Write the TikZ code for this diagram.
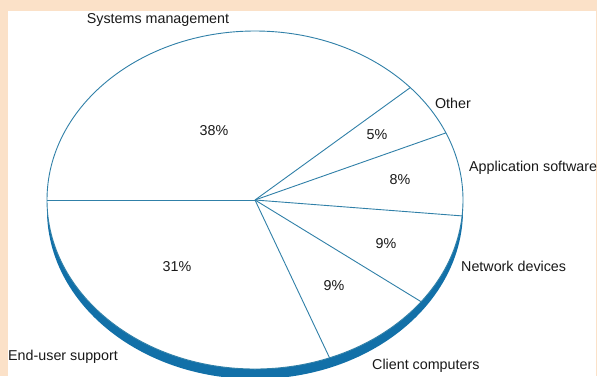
\documentclass[tikz,border=0pt]{standalone}
\usepackage{fontspec}
\setmainfont{Liberation Sans}
\definecolor{peach}{RGB}{251,225,200}
\definecolor{pieline}{RGB}{48,128,168}
\definecolor{pieband}{RGB}{18,112,168}
\definecolor{txt}{RGB}{25,25,25}
\tikzset{
  lbl/.style={font=\fontsize{14.3}{16}\selectfont, text=txt, inner sep=0pt},
  sliceline/.style={draw=pieline, line width=0.9pt},
}
\begin{document}
\begin{tikzpicture}[x=1pt,y=-1pt]
\useasboundingbox (0,0) rectangle (597,376);
\fill[peach] (0,0) rectangle (597,376);
\fill[white] (8,11) rectangle (596,376);
\begin{scope}
\clip (0,0) rectangle (597,376);
\fill[pieband] (255,210) ellipse [x radius=208, y radius=169];
\filldraw[fill=white, draw=pieline, line width=0.9pt] (255,200) ellipse [x radius=208, y radius=169];
\end{scope}
\coordinate (c) at (255,200);
\foreach \a/\n in {180/p1, 41.7/p2, 23.4/p3, -5.4/p4, -37/p5, -69/p6} {
  \coordinate (\n) at ({255+208*cos(\a)},{200-169*sin(\a)});
}
\foreach \n in {p1,p2,p3,p4,p5,p6} {
  \draw[sliceline] (c) -- (\n);
}
\node[lbl] (tsys) at (158,20) {Systems management};
\node[lbl] (t38) at (214,131) {38\%};
\node[lbl] (toth) at (453,103) {Other};
\node[lbl] (t5) at (377,135) {5\%};
\node[lbl, anchor=west] (tapp) at (469,168) {Application software};
\node[lbl] (t8) at (400,180) {8\%};
\node[lbl] (t9a) at (386,244) {9\%};
\node[lbl, anchor=west] (tnet) at (461,266) {Network devices};
\node[lbl] (t9b) at (334,286) {9\%};
\node[lbl, anchor=west] (tcli) at (372,366) {Client computers};
\node[lbl] (t31) at (177,267) {31\%};
\node[lbl, anchor=west] (tend) at (8,357) {End-user support};
\end{tikzpicture}
\end{document}
